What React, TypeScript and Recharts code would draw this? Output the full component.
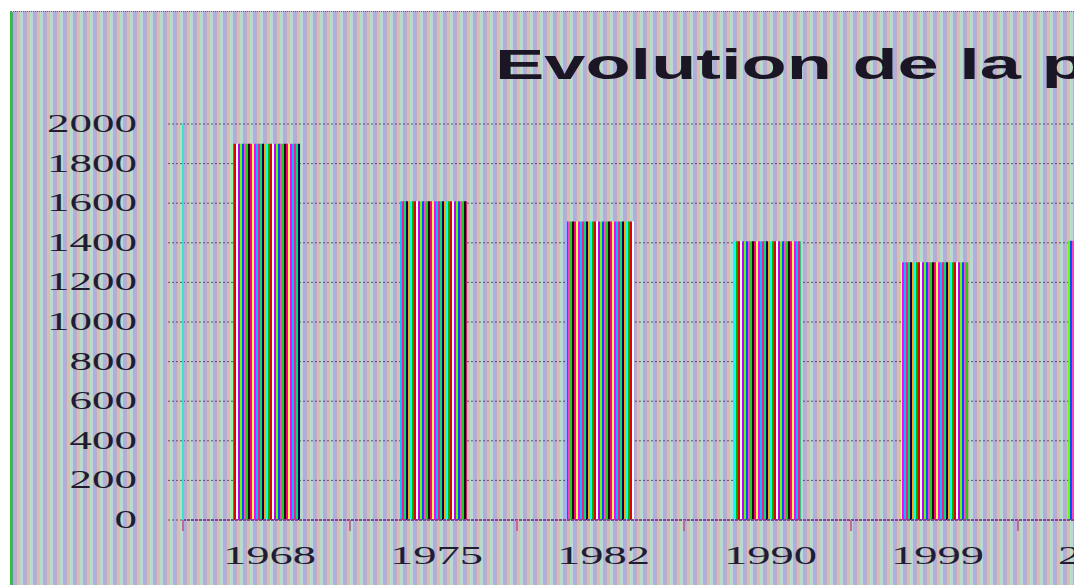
import React from "react";
import { BarChart, Bar, XAxis, YAxis, CartesianGrid } from "recharts";

const years = ["1968", "1975", "1982", "1990", "1999", "2006"];
const population = [1900, 1610, 1508, 1408, 1302, 1410];
const yTicks = [0, 200, 400, 600, 800, 1000, 1200, 1400, 1600, 1800, 2000];
const title = "Evolution de la population";

const data = years.map((year, i) => ({ year, population: population[i] }));

// the original is a crop: the plot runs past the right edge of the picture
const W = 1074;
const H = 585;
const CHART_W = 1185;
const Y_AXIS_W = 183;
const BAND = (CHART_W - Y_AXIS_W) / years.length;
const DIGIT_W = 22.5;

const TEXT = "#231c30";
const GRID = "#5e4e78";

const stripeColors = [
  "#ffff40", "#ff00ff", "#00c0ff", "#ff1493", "#00e070", "#000060",
  "#ffa500", "#00ffff", "#00b000", "#e00000", "#ffffff", "#c000ff",
  "#60ff00", "#0050ff", "#ff40c0", "#20d020", "#101010", "#ff0080",
];

function XTick(props: any) {
  const { x, y, payload } = props;
  const edge = x - BAND / 2;
  return (
    <g>
      <line x1={edge} x2={edge} y1={y} y2={y + 11} stroke="#c06a9a" strokeWidth={2} />
      <text
        x={x + 3}
        y={y + 44}
        textAnchor="middle"
        fontFamily="'Liberation Serif', serif"
        fontSize={25}
        fill={TEXT}
        textLength={93}
        lengthAdjust="spacingAndGlyphs"
      >
        {payload.value}
      </text>
    </g>
  );
}

function YTick(props: any) {
  const { x, y, payload } = props;
  const label = String(payload.value);
  return (
    <text
      x={x}
      y={y + 8}
      textAnchor="end"
      fontFamily="'Liberation Serif', serif"
      fontSize={25}
      fill={TEXT}
      textLength={label.length * DIGIT_W}
      lengthAdjust="spacingAndGlyphs"
    >
      {label}
    </text>
  );
}

export default function App() {
  return (
    <div
      style={{
        position: "absolute",
        left: 0,
        top: 0,
        width: W,
        height: H,
        overflow: "hidden",
        background: "#ffffff",
      }}
    >
      <div
        style={{
          position: "absolute",
          left: 10,
          top: 11,
          right: 0,
          bottom: 0,
          borderLeft: "3px solid #30c040",
          borderTop: "1px dotted #7a4a9a",
          background:
            "repeating-linear-gradient(90deg, #aeaee0 0px, #aeaee0 4px, #dbbbb7 4px, #dbbbb7 7px, #b3dfc3 7px, #b3dfc3 10px)",
        }}
      />
      <svg
        width={W}
        height={110}
        style={{ position: "absolute", left: 0, top: 0 }}
      >
        <text
          transform="translate(495,79) scale(1.72,1)"
          fontFamily="'Liberation Sans', Arial, sans-serif"
          fontWeight="bold"
          fontSize={43}
          fill="#1a1626"
        >
          {title}
        </text>
      </svg>
      <div style={{ position: "absolute", left: 0, top: 0 }}>
        <BarChart
          width={CHART_W}
          height={H}
          data={data}
          margin={{ top: 124, right: 0, left: 0, bottom: 0 }}
          barCategoryGap="30%"
        >
          <defs>
            <pattern
              id="barStripes"
              patternUnits="userSpaceOnUse"
              width={stripeColors.length * 2}
              height={10}
            >
              {stripeColors.map((c, i) => (
                <rect key={c} x={i * 2} y={0} width={2} height={10} fill={c} />
              ))}
            </pattern>
          </defs>
          <CartesianGrid
            vertical={false}
            stroke={GRID}
            strokeDasharray="2 2"
          />
          <XAxis
            dataKey="year"
            height={65}
            tickSize={0}
            tickMargin={0}
            tickLine={false}
            axisLine={{ stroke: "#7a4e8a", strokeWidth: 2, strokeDasharray: "3 1" }}
            tick={<XTick />}
            interval={0}
          />
          <YAxis
            width={Y_AXIS_W}
            domain={[0, 2000]}
            ticks={yTicks}
            interval={0}
            tickSize={15}
            tickMargin={31}
            tickLine={{ stroke: GRID, strokeDasharray: "2 2" }}
            axisLine={{ stroke: "#40e0c8", strokeWidth: 2 }}
            tick={<YTick />}
          />
          <Bar
            dataKey="population"
            fill="url(#barStripes)"
            isAnimationActive={false}
          />
        </BarChart>
      </div>
    </div>
  );
}
